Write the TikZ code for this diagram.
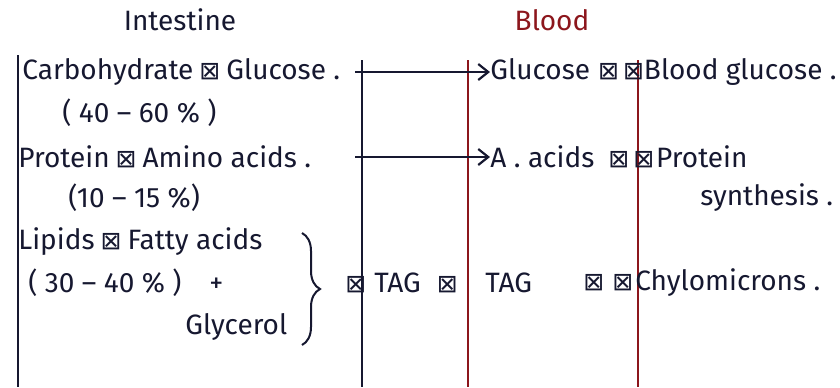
\documentclass[tikz,border=0pt]{standalone}
\usepackage{fontspec}
\setmainfont{Fira Sans}
\newfontfamily\symfont{DejaVu Sans}
\usetikzlibrary{arrows.meta, positioning, decorations.pathreplacing}
\usepackage{xcolor}
\definecolor{ink}{RGB}{22,24,48}
\definecolor{bred}{RGB}{140,22,28}
\newcommand{\xb}{{\symfont\fontsize{12.5}{14}\selectfont ⊠}}

\begin{document}
\begin{tikzpicture}[
  x=0.5pt, y=-0.5pt,
  txt/.style={anchor=west, inner sep=0pt, text=ink,
              font=\fontsize{14}{16}\selectfont},
  wall/.style={line width=1.1pt, ink},
  vessel/.style={line width=1.1pt, bred},
  flow/.style={line width=1.1pt, ink, -{Straight Barb[length=5pt, width=8pt]}},
]
\useasboundingbox (0,0) rectangle (840,387);

% headings
\node[txt, anchor=center] (intestine) at (180,20) {Intestine};
\node[txt, anchor=center, text=bred] (blood) at (552,20) {Blood};

% walls
\draw[wall] (18,55) -- (18,387);
\draw[wall] (362,60) -- (362,387);
\draw[vessel] (468,60) -- (468,387);
\draw[vessel] (638,60) -- (638,387);

% intestine side
\node[txt] (carb) at (22,72) {Carbohydrate\hspace{3pt}\xb\hspace{3pt}Glucose .};
\node[txt] (carbpc) at (62,113) {( 40 -- 60 \% )};
\node[txt] (prot) at (18,157) {Protein\hspace{3pt}\xb\hspace{3pt}Amino acids .};
\node[txt] (protpc) at (68,198) {(10 -- 15 \%)};
\node[txt] (lip) at (18,242) {Lipids\hspace{3pt}\xb\hspace{3pt}Fatty acids};
\node[txt] (lippc) at (28,283) {( 30 -- 40 \% )\quad +};
\node[txt] (glyc) at (185,327) {Glycerol};
\draw[ink, line width=1pt, decorate, decoration={brace, amplitude=9pt}]
  (302,233) -- (302,345);

% blood side
\node[txt] (glu) at (490,72) {Glucose\hspace{4pt}\xb\hspace{2pt}\xb\hspace{0pt}Blood glucose .};
\node[txt] (aa) at (490,157) {A . acids\hspace{7pt}\xb\hspace{2pt}\xb\hspace{1pt}Protein};
\node[txt] (synth) at (700,198) {synthesis .};
\node[txt] (tag1) at (345,283) {\xb\hspace{4pt}TAG\hspace{8pt}\xb};
\node[txt] (tag2) at (485,283) {TAG};
\node[txt] (chylo) at (583,283) {\xb\hspace{4pt}\xb\hspace{1pt}Chylomicrons .};

% absorption
\coordinate (s1) at (355,72);
\coordinate (s2) at (355,157);
\draw[flow] (s1) -- (glu.west);
\draw[flow] (s2) -- (aa.west);
\end{tikzpicture}
\end{document}
